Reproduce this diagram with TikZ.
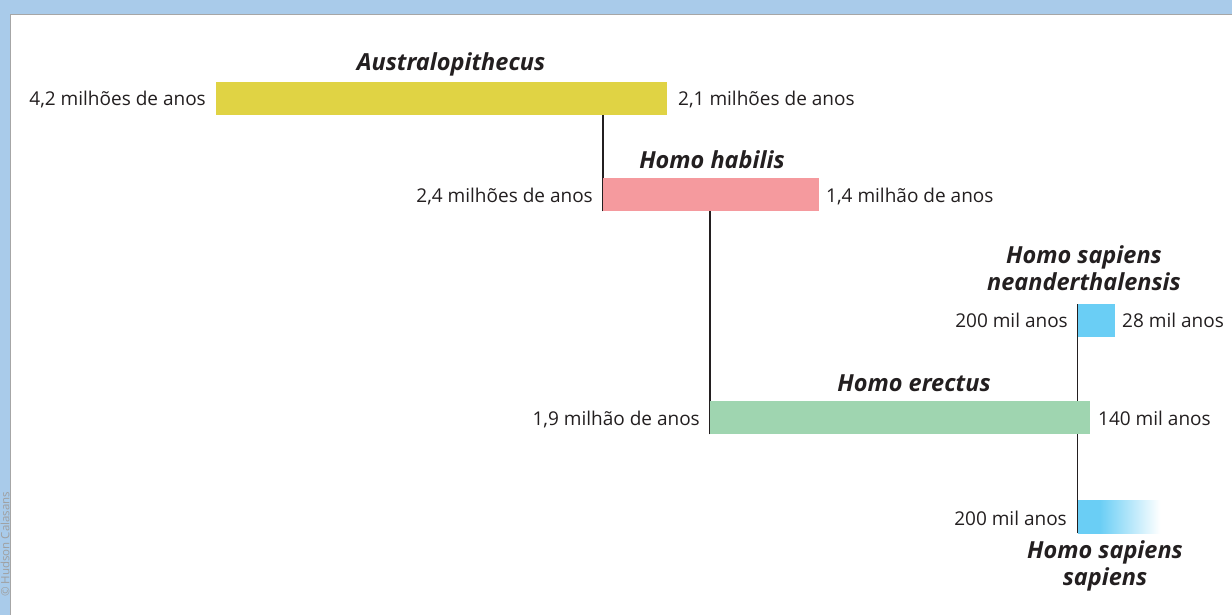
\documentclass[tikz,border=0pt]{standalone}
\usepackage{fontspec}
\setmainfont{Open Sans}
\usetikzlibrary{backgrounds}
\definecolor{frameblue}{HTML}{A9CBEA}
\definecolor{txt}{HTML}{231F20}
\definecolor{ausc}{HTML}{E0D344}
\definecolor{habc}{HTML}{F59A9E}
\definecolor{erec}{HTML}{9FD5B0}
\definecolor{skyc}{HTML}{6ACEF5}
\pgfdeclarehorizontalshading{sapfade}{100bp}{color(0bp)=(skyc); color(25bp)=(skyc); color(38bp)=(skyc); color(75bp)=(white); color(100bp)=(white)}
\tikzset{
  bar/.style={draw=none, inner sep=0pt, minimum height=33pt, anchor=north west},
  age/.style={font=\fontsize{19}{21}\selectfont, text=txt, inner sep=0pt},
  taxon/.style={font=\fontsize{23.5}{27}\selectfont\bfseries\itshape, text=txt, inner sep=0pt, align=center},
  link/.style={draw=txt, line width=1.1pt}
}
\begin{document}
\begin{tikzpicture}[x=1pt,y=-1pt]
\useasboundingbox (0,0) rectangle (1232,615);
\node[rotate=90, anchor=west, font=\fontsize{11.5}{12}\selectfont, text=gray!75, inner sep=0pt] (copy) at (5,597) {© Hudson Calasans};

% bars
\node[bar, fill=ausc, minimum width=451pt] (aus) at (216,82) {};
\node[bar, fill=habc, minimum width=216pt] (hab) at (603,178) {};
\node[bar, fill=erec, minimum width=380pt] (ere) at (710,401) {};
\node[bar, fill=skyc, minimum width=37pt] (nea) at (1078,304) {};
\node[bar, shading=sapfade, minimum width=82pt] (sap) at (1078,500) {};

% frame and connectors (behind the bars)
\begin{scope}[on background layer]
\fill[frameblue] (0,0) rectangle (1232,615);
\fill[white] (10,14) rectangle (1232,615);
\draw[gray!70, line width=1pt] (10.5,615) -- (10.5,14.5) -- (1232,14.5);
\draw[link] (hab.south west) -- (hab.south west |- aus.south);
\draw[link] (ere.south west) -- (ere.south west |- hab.south);
\draw[link] ([xshift=-0.5pt]sap.south west) -- ([xshift=-0.5pt]nea.north west);
\end{scope}

% taxon names
\node[taxon, anchor=base] (tAus) at (451,71) {Australopithecus};
\node[taxon, anchor=base] (tHab) at (712,168) {Homo habilis};
\node[taxon, anchor=base] (tEre) at (914,391) {Homo erectus};
\node[taxon, anchor=base] (tNea) at (1084,290) {Homo sapiens\\neanderthalensis};
\node[taxon, anchor=base] (tSap) at (1105,585) {Homo sapiens\\sapiens};

% ages
\node[age, anchor=base east] (a1) at (206,106) {4,2 milhões de anos};
\node[age, anchor=base west] (a2) at (678,106) {2,1 milhões de anos};
\node[age, anchor=base east] (h1) at (593,202) {2,4 milhões de anos};
\node[age, anchor=base west] (h2) at (826,202) {1,4 milhão de anos};
\node[age, anchor=base east] (e1) at (700,425) {1,9 milhão de anos};
\node[age, anchor=base west] (e2) at (1098,425) {140 mil anos};
\node[age, anchor=base east] (n1) at (1068,327) {200 mil anos};
\node[age, anchor=base west] (n2) at (1122,327) {28 mil anos};
\node[age, anchor=base east] (s1) at (1067,525) {200 mil anos};
\end{tikzpicture}
\end{document}
